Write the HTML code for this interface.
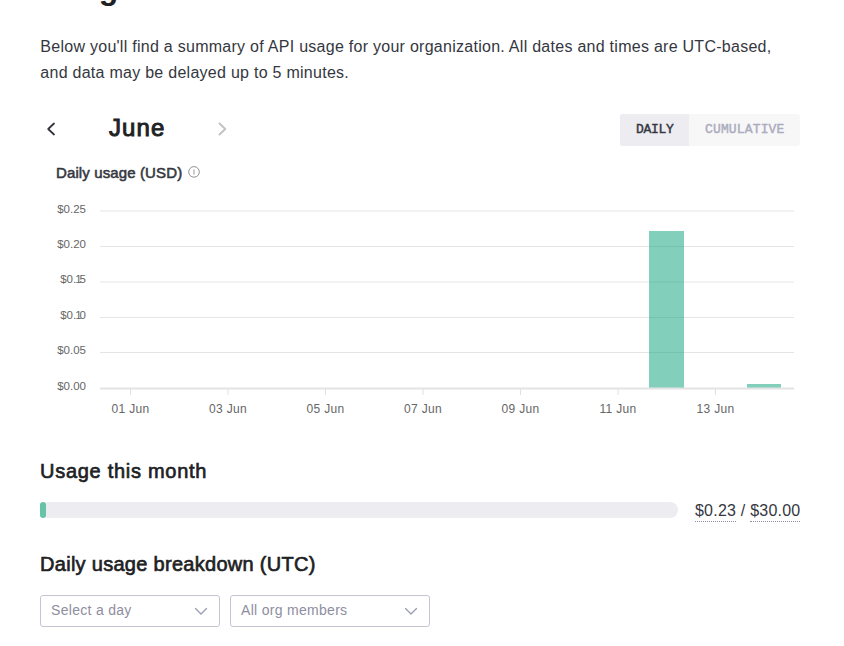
<!DOCTYPE html>
<html><head><meta charset="utf-8">
<style>
html,body{margin:0;padding:0;background:#fff;width:844px;height:646px;overflow:hidden;position:relative}
body{font-family:"Liberation Sans",sans-serif;color:#353740}
.a{position:absolute;white-space:nowrap}
#title{left:40px;top:-32px;font-size:32px;font-weight:bold;color:#202123;line-height:40px}
#para{left:40.3px;top:34px;font-size:16px;line-height:26px;color:#353740;letter-spacing:0.27px}
#month{left:109px;top:113px;font-size:24px;font-weight:normal;-webkit-text-stroke:0.95px #202123;color:#202123;line-height:30px;letter-spacing:1.1px}
#toggle{left:620px;top:114px;width:180px;height:32px;background:#f7f7f8;border-radius:3px;overflow:hidden}
#daily{position:absolute;left:0;top:0;width:69px;height:32px;background:#ececf1}
.tg{position:absolute;top:8px;font-family:"Liberation Mono",monospace;font-size:13px;font-weight:normal;-webkit-text-stroke:0.45px currentColor;line-height:16px}
#charttitle{left:56px;top:164px;font-size:15px;font-weight:normal;-webkit-text-stroke:0.55px #353740;color:#353740;line-height:17px;letter-spacing:0.12px}
#h2a{left:40px;top:459px;font-size:20px;font-weight:normal;-webkit-text-stroke:0.65px #202123;color:#202123;line-height:24px;letter-spacing:0.72px}
#h2b{left:40px;top:552px;font-size:20px;font-weight:normal;-webkit-text-stroke:0.65px #202123;color:#202123;line-height:24px;letter-spacing:0.29px}
#bar{left:40px;top:502px;width:638px;height:16px;background:#ececf1;border-radius:8px}
#fill{position:absolute;left:0;top:0;width:6px;height:16px;background:#66c3a6;border-radius:3px}
#amt{left:695px;top:501px;font-size:16px;line-height:20px;color:#353740;letter-spacing:0.22px}
#amt span{border-bottom:1px dotted #8e8ea0;padding-bottom:2px}
.dd{position:absolute;top:595px;height:30px;border:1px solid #c5c5d2;border-radius:3px;box-sizing:content-box}
.dd .t{position:absolute;left:10px;top:5px;font-size:14px;line-height:18px;color:#8e8ea0;letter-spacing:0.3px}
</style></head>
<body>
<div class="a" id="title">Usage</div>
<div class="a" id="para">Below you'll find a summary of API usage for your organization. All dates and times are UTC-based,<br>and data may be delayed up to 5 minutes.</div>

<div class="a" id="month">June</div>

<div class="a" id="toggle">
  <div id="daily"></div>
  <div class="tg" style="left:16px;color:#353740;letter-spacing:-0.3px">DAILY</div>
  <div class="tg" style="left:85px;color:#acacbe;letter-spacing:0.15px">CUMULATIVE</div>
</div>

<div class="a" id="charttitle">Daily usage (USD)</div>

<svg class="a" style="left:0;top:0" width="844" height="646" viewBox="0 0 844 646" font-family="Liberation Sans, sans-serif">
  <path d="M54 123.5 L48.2 129 L54 134.5" fill="none" stroke="#33343d" stroke-width="1.8" stroke-linecap="round" stroke-linejoin="round"/>
  <path d="M219.5 123.5 L225.3 129 L219.5 134.5" fill="none" stroke="#c2c2c2" stroke-width="1.9" stroke-linecap="round" stroke-linejoin="round"/>
  <circle cx="194" cy="171.9" r="5.3" fill="none" stroke="#929298" stroke-width="1"/>
  <line x1="194" y1="169.5" x2="194" y2="174.5" stroke="#aaaab0" stroke-width="1.2"/>
  <g stroke="#e5e5e5" stroke-width="1">
    <line x1="100" y1="211" x2="794" y2="211"/>
    <line x1="100" y1="246.5" x2="794" y2="246.5"/>
    <line x1="100" y1="282" x2="794" y2="282"/>
    <line x1="100" y1="317.5" x2="794" y2="317.5"/>
    <line x1="100" y1="352.5" x2="794" y2="352.5"/>
  </g>
  <g fill="#666666" font-size="11.5" text-anchor="end">
    <text x="86" y="213">$0.25</text>
    <text x="86" y="247.5">$0.20</text>
    <text x="86" y="283.2">$0.<tspan dx="-1">1</tspan><tspan dx="-2">5</tspan></text>
    <text x="86" y="318.8">$0.<tspan dx="-1">1</tspan><tspan dx="-2">0</tspan></text>
    <text x="86" y="353.8">$0.05</text>
    <text x="86" y="390">$0.00</text>
  </g>
  <rect x="649" y="231" width="35" height="157" fill="#10a37f" fill-opacity="0.52"/>
  <rect x="747" y="384" width="34" height="4" fill="#10a37f" fill-opacity="0.52"/>
  <rect x="100" y="387.5" width="694" height="2" fill="#e3e3e3"/>
  <g stroke="#e0e0e0" stroke-width="1">
    <line x1="130.5" y1="389" x2="130.5" y2="395"/>
    <line x1="228" y1="389" x2="228" y2="395"/>
    <line x1="325.5" y1="389" x2="325.5" y2="395"/>
    <line x1="423" y1="389" x2="423" y2="395"/>
    <line x1="520.5" y1="389" x2="520.5" y2="395"/>
    <line x1="618" y1="389" x2="618" y2="395"/>
    <line x1="715.5" y1="389" x2="715.5" y2="395"/>
  </g>
  <g fill="#666666" font-size="12" letter-spacing="0.3" text-anchor="middle">
    <text x="130.5" y="413">01 Jun</text>
    <text x="228" y="413">03 Jun</text>
    <text x="325.5" y="413">05 Jun</text>
    <text x="423" y="413">07 Jun</text>
    <text x="520.5" y="413">09 Jun</text>
    <text x="618" y="413">11 Jun</text>
    <text x="715.5" y="413">13 Jun</text>
  </g>
  <path d="M195.5 608.5 L201 614 L206.5 608.5" fill="none" stroke="#9a9ab0" stroke-width="1.3" stroke-linecap="round" stroke-linejoin="round"/>
  <path d="M405.5 608.5 L411 614 L416.5 608.5" fill="none" stroke="#9a9ab0" stroke-width="1.3" stroke-linecap="round" stroke-linejoin="round"/>
</svg>

<div class="a" id="h2a">Usage this month</div>
<div class="a" id="bar"><div id="fill"></div></div>
<div class="a" id="amt"><span>$0.23</span> / <span>$30.00</span></div>

<div class="a" id="h2b">Daily usage breakdown (UTC)</div>

<div class="dd" style="left:40px;width:178px"><div class="t">Select a day</div></div>
<div class="dd" style="left:230px;width:198px"><div class="t">All org members</div></div>
</body></html>
